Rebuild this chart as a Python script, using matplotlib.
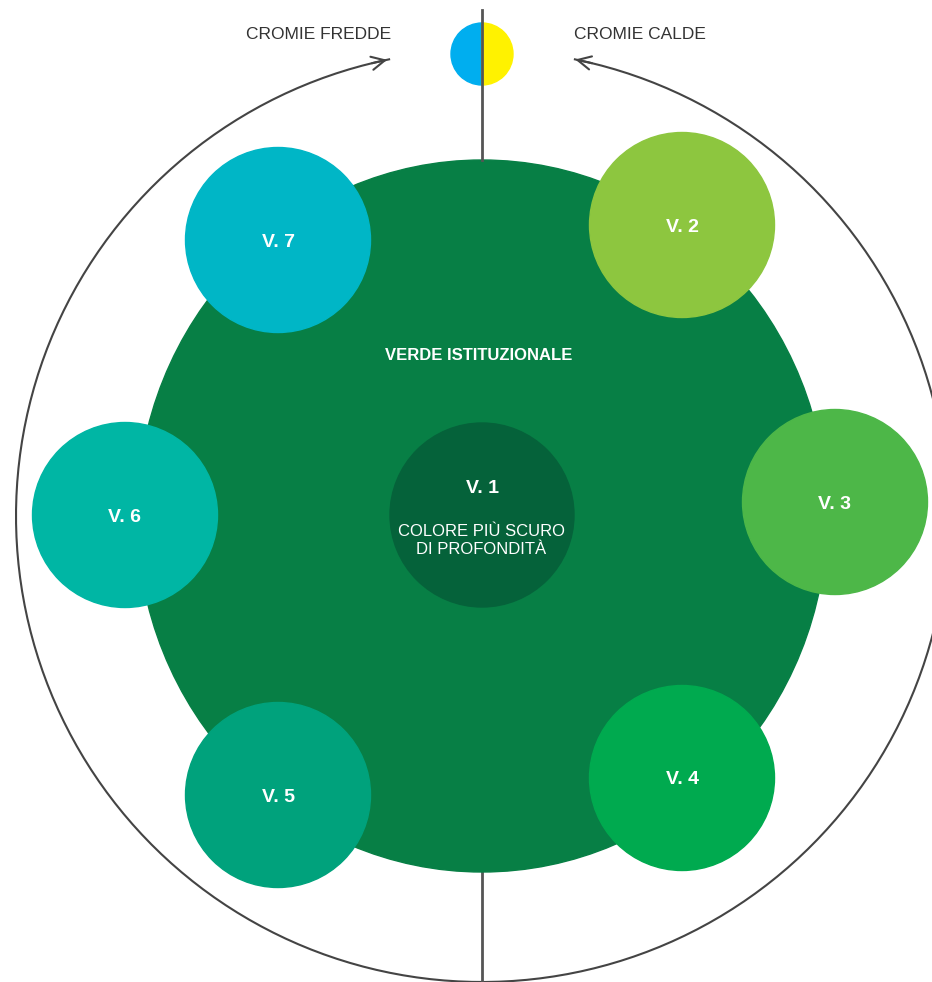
import matplotlib.pyplot as plt
from matplotlib.patches import Ellipse, Wedge
import numpy as np

# satellite swatches (label, centre x, centre y, colour) in pixels
labels = ['V. 2', 'V. 3', 'V. 4', 'V. 5', 'V. 6', 'V. 7']
cx = [682, 835, 682, 278, 125, 278]
cy = [225, 502, 778, 795, 515, 240]
colors = ['#8dc63f', '#4db748', '#00aa4f', '#00a27c', '#00b6a4', '#00b6c6']

center = (482, 516)
main_color = '#077f45'
core_color = '#05623a'
side_titles = ['CROMIE FREDDE', 'CROMIE CALDE']

fig = plt.figure(figsize=(9.32, 9.82), dpi=100)
ax = fig.add_axes([0, 0, 1, 1])
ax.set_xlim(0, 932)
ax.set_ylim(982, 0)
ax.axis('off')

# outer arc, open at the top between the two arrows
r_out = 466
th = np.radians(np.linspace(101.5, 78.5 + 360, 400))
ax.plot(center[0] + r_out * np.cos(th), center[1] - r_out * np.sin(th),
        color='#444444', lw=1.5, zorder=1)
for a0, a1 in [(104, 101.4), (76, 78.8)]:
    p0 = (center[0] + r_out * np.cos(np.radians(a0)), center[1] - r_out * np.sin(np.radians(a0)))
    p1 = (center[0] + r_out * np.cos(np.radians(a1)), center[1] - r_out * np.sin(np.radians(a1)))
    ax.annotate('', xy=p1, xytext=p0,
                arrowprops=dict(arrowstyle='->', color='#444444', lw=1.5, mutation_scale=24))

# vertical axis line
ax.plot([482, 482], [10, 160], color='#555555', lw=2, zorder=5)
ax.plot([482, 482], [860, 982], color='#555555', lw=2, zorder=1)

# blue / yellow dot
ax.add_patch(Wedge((482, 54), 31, 90, 270, color='#00aeef', zorder=3))
ax.add_patch(Wedge((482, 54), 31, -90, 90, color='#fff200', zorder=3))

# big institutional green
ax.add_patch(Ellipse(center, 690, 712, color=main_color, zorder=2))
ax.add_patch(Ellipse((482, 515), 184, 184, color=core_color, zorder=3))

for lab, x, y, c in zip(labels, cx, cy, colors):
    ax.add_patch(Ellipse((x, y), 185, 185, color=c, zorder=4))
    ax.text(x, y + 2, lab, color='white', fontsize=14, fontweight='bold',
            family='Liberation Sans', ha='center', va='center', zorder=6)

ax.text(479, 356, 'VERDE ISTITUZIONALE', color='white', fontsize=12, fontweight='bold',
        family='Liberation Sans', ha='center', va='center', zorder=6)
ax.text(482, 488, 'V. 1', color='white', fontsize=14, fontweight='bold',
        family='Liberation Sans', ha='center', va='center', zorder=6)
ax.text(481, 541, 'COLORE PIÙ SCURO\nDI PROFONDITÀ', color='white', fontsize=12,
        family='Liberation Sans', ha='center', va='center', linespacing=1.25, zorder=6)

ax.text(319, 34, side_titles[0], color='#333333', fontsize=12.5,
        family='Liberation Sans', ha='center', va='center')
ax.text(640, 34, side_titles[1], color='#333333', fontsize=12.5,
        family='Liberation Sans', ha='center', va='center')

fig.savefig('out.png', dpi=100, facecolor='white')
